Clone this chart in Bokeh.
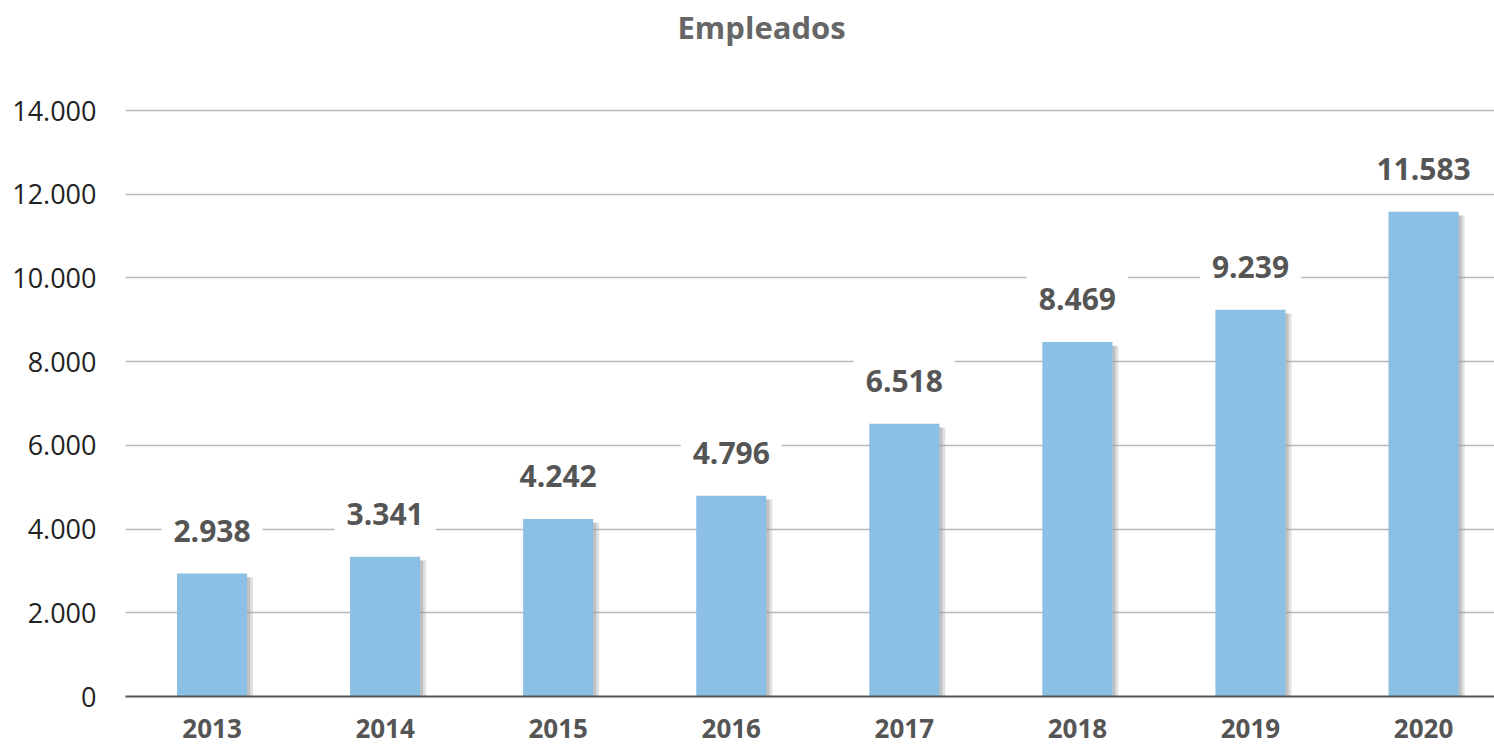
from bokeh.plotting import figure
from bokeh.models import ColumnDataSource, FixedTicker, Range1d
from bokeh.core.properties import value
from bokeh.transform import dodge
from bokeh.embed import file_html
from bokeh.resources import INLINE

years = ["2013", "2014", "2015", "2016", "2017", "2018", "2019", "2020"]
empleados = [2938, 3341, 4242, 4796, 6518, 8469, 9239, 11583]
y_ticks = [0, 2000, 4000, 6000, 8000, 10000, 12000, 14000]

def fmt(v):
    return f"{v:,}".replace(",", ".")

xs = list(range(len(years)))
src = ColumnDataSource(dict(
    x=xs,
    y=empleados,
    shadow_top=[v - 90 for v in empleados],
    label=[fmt(v) for v in empleados],
))

p = figure(width=1494, height=747, output_backend="svg", toolbar_location=None,
           x_range=Range1d(-0.5, 7.41), y_range=Range1d(0, 15434),
           min_border_left=125, min_border_right=0, min_border_bottom=51,
           min_border_top=50, title="Empleados")
p.outline_line_color = None
p.background_fill_color = "white"
p.border_fill_color = "white"

p.title.align = "left"
p.title.offset = 552
p.title.text_font = "Open Sans"
p.title.text_font_size = "31px"
p.title.text_font_style = "bold"
p.title.text_color = "#666666"
p.title.standoff = 6

# shadow
p.vbar(x=dodge("x", 0.032, range=p.x_range), top="shadow_top", bottom=0, width=0.41,
       source=src, fill_color="#aaaaaa", fill_alpha=0.35, line_color=None)
p.vbar(x=dodge("x", 0.018, range=p.x_range), top="shadow_top", bottom=0, width=0.405,
       source=src, fill_color="#888888", fill_alpha=0.35, line_color=None)
p.vbar(x="x", top="y", width=0.405, source=src, fill_color="#8bbfe3", line_color=None)

p.text(x="x", y="y", text="label", source=src, y_offset=-43,
       text_align="center", text_baseline="middle",
       text_font=value("Open Sans"), text_font_size="30px", text_font_style="bold",
       text_color="#555555", background_fill_color="white", padding=12)

p.xgrid.grid_line_color = None
p.ygrid.ticker = FixedTicker(ticks=y_ticks)
p.ygrid.grid_line_color = "#b8b8b8"
p.ygrid.grid_line_width = 1.5

p.yaxis.ticker = FixedTicker(ticks=y_ticks)
p.yaxis.major_label_overrides = {t: fmt(t) for t in y_ticks}
p.yaxis.axis_line_color = None
p.yaxis.major_tick_line_color = None
p.yaxis.minor_tick_line_color = None
p.yaxis.major_label_standoff = 23
p.yaxis.major_label_text_font = "Open Sans"
p.yaxis.major_label_text_font_size = "27px"
p.yaxis.major_label_text_color = "#222222"

p.xaxis.ticker = FixedTicker(ticks=xs)
p.xaxis.major_label_overrides = {i: y for i, y in zip(xs, years)}
p.xaxis.axis_line_color = "#555555"
p.xaxis.axis_line_width = 2
p.xaxis.major_tick_line_color = None
p.xaxis.minor_tick_line_color = None
p.xaxis.major_label_standoff = 16
p.xaxis.major_label_text_line_height = 1.0
p.xaxis.major_label_text_font = "Open Sans"
p.xaxis.major_label_text_font_size = "26px"
p.xaxis.major_label_text_font_style = "bold"
p.xaxis.major_label_text_color = "#555555"

open("out.html", "w").write(file_html(p, INLINE))
